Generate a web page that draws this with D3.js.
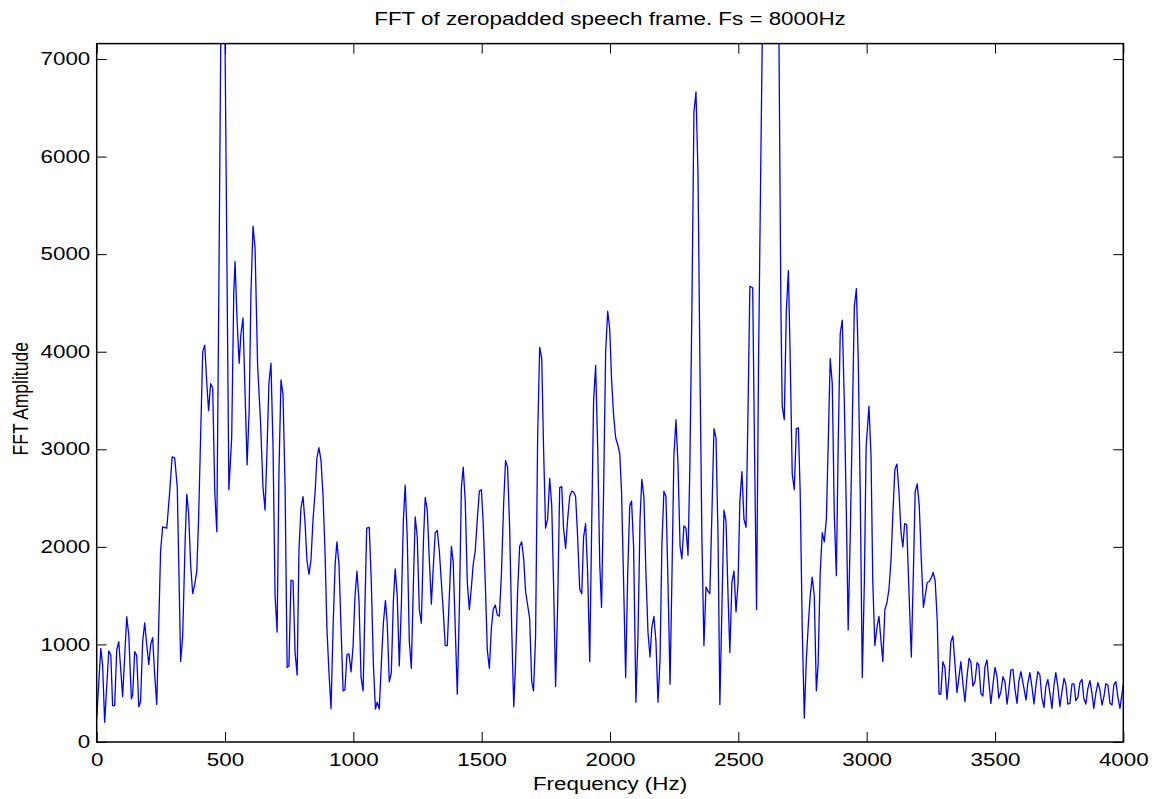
<!DOCTYPE html>
<html>
<head>
<meta charset="utf-8">
<script src="https://cdn.jsdelivr.net/npm/d3@7"></script>
<style>
  body { margin: 0; background: #fff; }
  text { font-family: "Liberation Sans", Arial, Helvetica, sans-serif; fill: #000; }
</style>
</head>
<body>
<svg id="chart" width="1161" height="799"></svg>
<script>
// Magnitude spectrum of one zero-padded speech frame (bin frequency in Hz, FFT magnitude)
const freqHz = [
  0,16,23,31,47,55,62,70,78,86,101,117,125,135,140,148,156,164,171,179,187,195,203,210,218,226,234,
  249,257,273,283,294,304,314,327,335,345,351,358,366,374,382,390,397,413,421,429,436,444,452,460,468,476,484,491,499,
  515,526,534,539,547,555,562,570,578,586,594,601,609,617,627,638,648,656,664,671,679,687,695,703,710,718,726,734,742,749,
  757,765,773,781,788,796,804,812,819,827,835,843,851,858,866,874,882,890,897,905,913,921,929,936,944,952,960,967,975,983,
  991,999,1006,1014,1022,1030,1038,
  1052,1062,1070,1078,1086,1093,1101,1109,1117,1125,1132,1140,1148,1156,1163,1171,1179,1187,1195,1202,
  1210,1218,1226,1234,1241,1249,1257,1265,1273,1280,1288,1296,1304,1312,1319,1327,1335,1343,1351,1358,
  1366,1374,1382,1389,1397,1405,1413,1421,1428,1436,1444,1452,1460,1467,1475,1483,1491,1499,1506,1514,
  1522,1530,1538,1545,1553,1561,1569,
  1577,1586,1593,1601,1609,1617,1625,1632,1640,1648,1656,1664,1671,1679,1687,1695,1702,1710,1718,1726,
  1734,1741,1749,1757,1765,1773,1780,1788,1796,1804,1812,1819,1827,1835,1843,1851,1858,1866,1874,1882,
  1890,1897,1905,1913,1921,1928,1936,1944,1952,1960,1967,1975,1983,1991,1999,2006,2014,2022,2030,2038,
  2045,2053,2061,2069,2077,2084,2092,2101,
  2109,2117,2124,2132,2140,2148,2156,2163,2171,2179,2187,2195,2202,2210,2218,2226,2234,2241,2249,2257,
  2265,2273,2280,2288,2296,2304,2311,2319,2327,2335,2343,2350,2358,2366,2374,2382,2389,2397,2405,2413,
  2421,2428,2436,2444,2452,2460,2467,2475,2483,2491,2499,2506,2514,2522,2530,2537,2545,2556,2563,2571,
  2579,2587,2595,2611,2627,2642,2658,
  2666,2671,2679,2687,2695,2702,2710,2718,2726,2734,2741,2749,2757,2765,2773,2780,2788,2796,2804,2811,
  2819,2827,2835,2843,2850,2858,2866,2874,2882,2889,2897,2905,2913,2921,2928,2936,2944,2952,2960,2967,
  2975,2983,2991,2998,3009,3017,3024,3032,3040,3048,3056,3063,3071,3079,3087,3095,3102,3110,3118,3126,
  3134,3141,3148,3156,3165,3174,3182,3189,3197,3205,3213,3221,3228,3236,3244,3252,3259,3267,3275,3282,
  3289,3297,3305,3313,3321,3328,3336,3344,3352,3360,3367,3375,3383,3391,3399,3406,3414,3422,3430,3437,
  3445,3453,3461,3469,3476,3484,3492,3500,3508,3515,3523,3531,3539,3547,3554,3562,3570,3578,3586,3593,
  3601,
  3613,3621,3628,3636,3644,3652,3659,3667,3675,3683,3691,3698,3706,3714,3722,3730,3737,3745,3753,3761,
  3769,3776,3784,3792,3800,3808,3815,3823,3831,3839,3846,3854,3862,3870,3878,3885,3893,3901,3909,3917,
  3924,3932,3940,3948,3956,3963,3971,3979,3987,4000
];

const amplitude = [
  243,960,790,202,933,891,372,372,943,1028,465,1284,1097,441,482,926,885,362,413,1028,1220,994,796,994,1069,687,386,
  1960,2205,2191,2516,2923,2909,2608,825,1080,2099,2539,2354,1821,1520,1612,1751,2284,3998,4068,3674,3396,3674,3628,2562,2154,4650,7400,8400,7500,
  2585,3118,4600,4925,4323,3882,4184,4346,3581,2840,3396,4600,5286,5064,3859,3303,2608,2377,3026,3674,3882,3026,1496,1126,2748,3711,3558,2608,764,778,
  1659,1649,917,686,1960,2400,2516,2238,1867,1719,1867,2284,2562,2909,3016,2886,2516,1914,1172,709,340,1172,1821,2052,1821,1172,524,533,894,903,
  718,987,1473,1751,1450,662,524,
  2191,2200,1635,801,338,408,338,801,1218,1450,1218,616,709,1450,1774,1496,778,1399,2284,2632,
  2099,1033,755,1635,2307,2099,1357,1218,2052,2507,2377,1867,1413,1821,2145,2168,1960,1635,1311,987,
  987,1496,2006,1844,1172,490,1357,2608,2817,2469,1635,1357,1589,1821,1960,2284,2571,2585,2238,1635,
  940,755,1172,1357,1404,1302,1290,
  1728,2469,2886,2817,2191,1172,361,801,1543,2006,2052,1867,1543,1404,1265,616,524,1080,3118,4045,
  3929,3026,2191,2284,2701,2423,1635,570,1404,2608,2618,2191,1983,2284,2516,2571,2562,2516,2099,1566,
  1520,2099,2238,1728,825,2099,3489,3859,3026,1821,1380,2562,3998,4415,4230,3721,3350,3118,3049,2956,
  2562,1635,660,1728,2423,2469,2000,408,
  1080,2284,2692,2516,1728,1126,871,1172,1288,1033,408,848,2006,2571,2516,1635,593,1635,2933,3303,
  2840,2006,1876,2215,2191,1914,2794,4415,6454,6662,5805,3952,2099,987,1589,1543,1520,2330,3211,3118,
  2099,385,1357,2377,2261,1496,917,1635,1751,1334,1635,2469,2771,2284,2200,3257,4670,4656,3026,1357,
  3952,5805,7600,9000,10000,9200,7300,
  4415,3442,3303,4415,4832,3952,2747,2585,3211,3220,2562,1172,246,848,1218,1496,1690,1496,524,801,
  1728,2145,2052,2284,3026,3929,3674,2330,1705,3026,4184,4323,3489,2330,1149,2099,3257,4462,4647,3952,
  2562,662,1635,3026,3442,2933,1635,987,1172,1288,1033,825,1357,1427,1566,1867,2330,2794,2849,2562,
  2145,2000,2238,2228,1540,871,1728,2562,2645,2423,1867,1381,1496,1635,1645,1682,1737,1650,1250,490,
  492,823,765,437,670,1028,1086,806,506,670,823,601,413,670,857,823,574,618,813,789,
  499,471,772,840,618,396,584,765,670,448,516,670,618,389,533,738,745,540,396,618,
  721,
  550,430,601,711,567,389,567,721,687,448,355,567,642,499,345,584,711,567,362,516,
  653,595,389,396,595,595,424,458,608,642,448,389,550,629,499,345,499,608,533,379,
  458,595,584,396,379,584,618,458,345,590
];

const xTickValues = [0, 500, 1000, 1500, 2000, 2500, 3000, 3500, 4000];
const yTickValues = [0, 1000, 2000, 3000, 4000, 5000, 6000, 7000];
const xDomain = [0, 4000];
const yDomain = [0, 7158];

const chartTitle = "FFT of zeropadded speech frame. Fs = 8000Hz";
const xAxisTitle = "Frequency (Hz)";
const yAxisTitle = "FFT Amplitude";

// Layout
const W = 1161, H = 799;
const plot = { left: 96.7, right: 1123.3, top: 43.6, bottom: 742 };
const fontPx = 17.5;
const stretch = 1.28;   // wide Helvetica-like lettering
const tickLen = 10;
const plainNumber = d3.format("d");

const svg = d3.select("#chart");

const x = d3.scaleLinear().domain(xDomain).range([plot.left, plot.right]);
const y = d3.scaleLinear().domain(yDomain).range([plot.bottom, plot.top]);

svg.append("rect").attr("width", W).attr("height", H).attr("fill", "#fff");

// clip the trace to the axes box
svg.append("defs").append("clipPath").attr("id", "plotClip")
  .append("rect")
  .attr("x", plot.left).attr("y", plot.top)
  .attr("width", plot.right - plot.left).attr("height", plot.bottom - plot.top);

const points = freqHz.map((f, i) => [f, amplitude[i]]);

const line = d3.line().x(d => x(d[0])).y(d => y(d[1]));

svg.append("path")
  .datum(points)
  .attr("clip-path", "url(#plotClip)")
  .attr("fill", "none")
  .attr("stroke", "#0000ff")
  .attr("stroke-width", 1.3)
  .attr("stroke-linejoin", "round")
  .attr("d", line);

// Axes: ticks point inward on all four sides
function styleAxis(g) {
  g.select(".domain").remove();
  g.selectAll(".tick line").attr("stroke", "#000").attr("stroke-width", 1);
  g.selectAll("text").attr("font-size", fontPx).attr("fill", "#000")
    .style("font-family", "'Liberation Sans', Arial, Helvetica, sans-serif");
}

const bottomAxis = svg.append("g")
  .attr("transform", `translate(0,${plot.bottom})`)
  .call(d3.axisBottom(x).tickValues(xTickValues).tickFormat(plainNumber)
    .tickSize(-tickLen).tickPadding(12).tickSizeOuter(0))
  .call(styleAxis);
bottomAxis.selectAll("text").attr("transform", `scale(${stretch},1)`);

const leftAxis = svg.append("g")
  .attr("transform", `translate(${plot.left},0)`)
  .call(d3.axisLeft(y).tickValues(yTickValues).tickFormat(plainNumber)
    .tickSize(-tickLen).tickPadding(5).tickSizeOuter(0))
  .call(styleAxis);
leftAxis.selectAll("text").attr("transform", `scale(${stretch},1)`);

svg.append("g")
  .attr("transform", `translate(0,${plot.top})`)
  .call(d3.axisTop(x).tickValues(xTickValues).tickSize(-tickLen).tickFormat("").tickSizeOuter(0))
  .call(styleAxis);

svg.append("g")
  .attr("transform", `translate(${plot.right},0)`)
  .call(d3.axisRight(y).tickValues(yTickValues).tickSize(-tickLen).tickFormat("").tickSizeOuter(0))
  .call(styleAxis);

// axes box
svg.append("rect")
  .attr("x", plot.left).attr("y", plot.top)
  .attr("width", plot.right - plot.left).attr("height", plot.bottom - plot.top)
  .attr("fill", "none").attr("stroke", "#000").attr("stroke-width", 1.5);

// Title and axis labels
const midX = (plot.left + plot.right) / 2;

svg.append("text")
  .attr("transform", `translate(${midX},25) scale(${stretch},1)`)
  .attr("text-anchor", "middle")
  .attr("font-size", fontPx)
  .text(chartTitle);

svg.append("text")
  .attr("transform", `translate(${midX},790) scale(${stretch},1)`)
  .attr("text-anchor", "middle")
  .attr("font-size", fontPx)
  .text(xAxisTitle);

svg.append("text")
  .attr("transform", `translate(28,${(plot.top + plot.bottom) / 2 + 6}) rotate(-90) scale(1,${stretch})`)
  .attr("text-anchor", "middle")
  .attr("font-size", fontPx)
  .text(yAxisTitle);
</script>
</body>
</html>
